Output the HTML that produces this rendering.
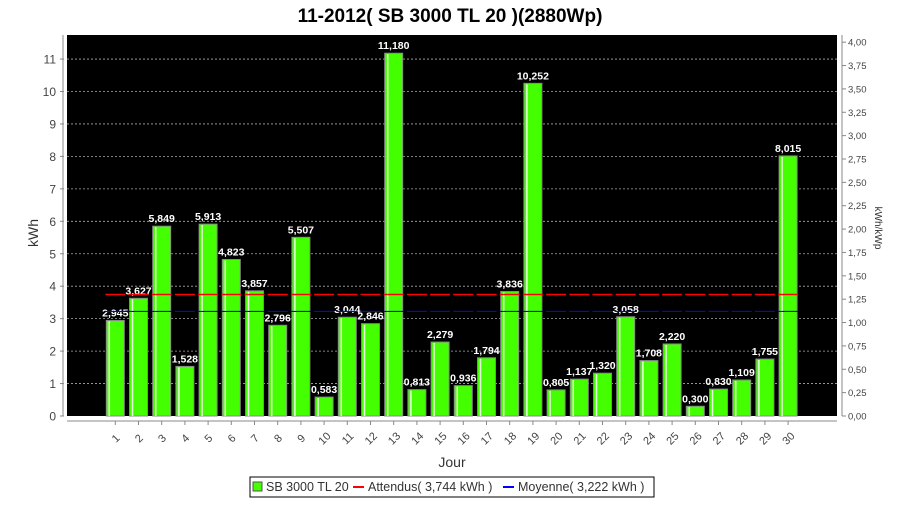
<!DOCTYPE html>
<html><head><meta charset="utf-8"><style>
body{margin:0;background:#fff;font-family:"Liberation Sans","DejaVu Sans",sans-serif}
svg text{font-family:"Liberation Sans","DejaVu Sans",sans-serif}
</style></head><body>
<svg id="c" width="900" height="500" xmlns="http://www.w3.org/2000/svg">
<text x="450" y="22" text-anchor="middle" font-size="19" font-weight="bold" font-family="Liberation Sans">11-2012( SB 3000 TL 20 )(2880Wp)</text>
<rect x="67" y="35" width="770" height="381" fill="#000"/>
<g id="grid"></g><g id="bars"></g><g id="lines"></g><g id="axes"></g>
<text transform="translate(38,233) rotate(-90)" text-anchor="middle" font-size="14" fill="#333">kWh</text>
<text transform="translate(875,228) rotate(90)" text-anchor="middle" font-size="10" fill="#333">kWh/kWp</text>
<text x="452" y="467" text-anchor="middle" font-size="14" fill="#333">Jour</text>
<g>
<rect x="250" y="477" width="404" height="20" fill="#fff" stroke="#000"/>
<rect x="253" y="482" width="9" height="9" fill="#44ff00" stroke="#555"/>
<text x="266" y="491" font-size="12.5" fill="#333">SB 3000 TL 20</text>
<line x1="353" y1="487" x2="364" y2="487" stroke="#f00" stroke-width="2"/>
<text x="368" y="491" font-size="12.5" fill="#333">Attendus( 3,744 kWh )</text>
<line x1="503" y1="487" x2="514" y2="487" stroke="#00f" stroke-width="2"/>
<text x="518" y="491" font-size="12.5" fill="#333">Moyenne( 3,222 kWh )</text>
</g>
</svg>
<script>
const days=["1","2","3","4","5","6","7","8","9","10","11","12","13","14","15","16","17","18","19","20","21","22","23","24","25","26","27","28","29","30"];
const values=[2.945,3.627,5.849,1.528,5.913,4.823,3.857,2.796,5.507,0.583,3.044,2.846,11.180,0.813,2.279,0.936,1.794,3.836,10.252,0.805,1.137,1.320,3.058,1.708,2.220,0.300,0.830,1.109,1.755,8.015];
const expected=3.744;
const average=3.222;
const yTicks=[0,1,2,3,4,5,6,7,8,9,10,11];
const y2Ticks=[0,0.25,0.5,0.75,1,1.25,1.5,1.75,2,2.25,2.5,2.75,3,3.25,3.5,3.75,4];
const kwp=2.88;
const NS="http://www.w3.org/2000/svg";
const y0=416,pxPerUnit=32.45;
function Y(v){return y0-v*pxPerUnit;}
function X(i){return 115.3+i*23.2;}
function mk(tag,attrs,parent,txt){const e=document.createElementNS(NS,tag);for(const k in attrs)e.setAttribute(k,attrs[k]);if(txt!==undefined)e.textContent=txt;document.getElementById(parent).appendChild(e);return e;}
function fmt(v,d){return v.toFixed(d).replace('.',',');}
yTicks.forEach(t=>{
  if(t>0){const g=mk('line',{x1:67,x2:837,y1:Y(t),y2:Y(t),stroke:'#aaa','stroke-dasharray':'2,2','stroke-width':0.8},'grid');
  
  }
  const tl=mk('text',{x:56,y:Y(t)+4.5,'text-anchor':'end','font-size':12,fill:'#444'},'axes',String(t));
  
  
  mk('line',{x1:60,x2:64,y1:Y(t),y2:Y(t),stroke:'#888'},'axes');
});
mk('line',{x1:63,x2:63,y1:35,y2:416,stroke:'#888'},'axes');
mk('line',{x1:842,x2:842,y1:35,y2:416,stroke:'#888'},'axes');
mk('line',{x1:67,x2:837,y1:421,y2:421,stroke:'#888'},'axes');
y2Ticks.forEach(t=>{
  const yy=Y(t*kwp);
  mk('line',{x1:842,x2:846,y1:yy,y2:yy,stroke:'#888'},'axes');
  const tl=mk('text',{x:848,y:yy+3.5,'font-size':9.5,fill:'#444'},'axes',fmt(t,2));
  
  
});
days.forEach((d,i)=>{
  const cx=X(i),v=values[i],top=Y(v);
  const b=mk('rect',{x:cx-9,y:top,width:18,height:y0-top,fill:'#44ff00',stroke:'#888','stroke-width':1},'bars');
  
  
  mk('line',{x1:cx-6,x2:cx-6,y1:top+1,y2:y0,stroke:'#eaffdd','stroke-width':1.5},'bars');
  const l=mk('text',{x:cx,y:top-4,'text-anchor':'middle','font-size':10.5,'font-weight':'bold','font-family':'Liberation Serif',fill:'#fff'},'bars',fmt(v,3));
  
  
  mk('line',{x1:cx,x2:cx,y1:421,y2:425,stroke:'#888'},'axes');
  const t=mk('text',{transform:`translate(${cx+3},${441}) rotate(-45)`,'text-anchor':'middle','font-size':11,fill:'#444'},'axes',d);
  
  
  const r=mk('line',{x1:cx-10,x2:cx+10,y1:Y(expected),y2:Y(expected),stroke:'#f00','stroke-width':1.5},'lines');
  
  
  const bl=mk('line',{x1:cx-10,x2:cx+10,y1:Y(average),y2:Y(average),stroke:'#00f','stroke-width':1.2},'lines');
  
  
});
</script>
</body></html>
